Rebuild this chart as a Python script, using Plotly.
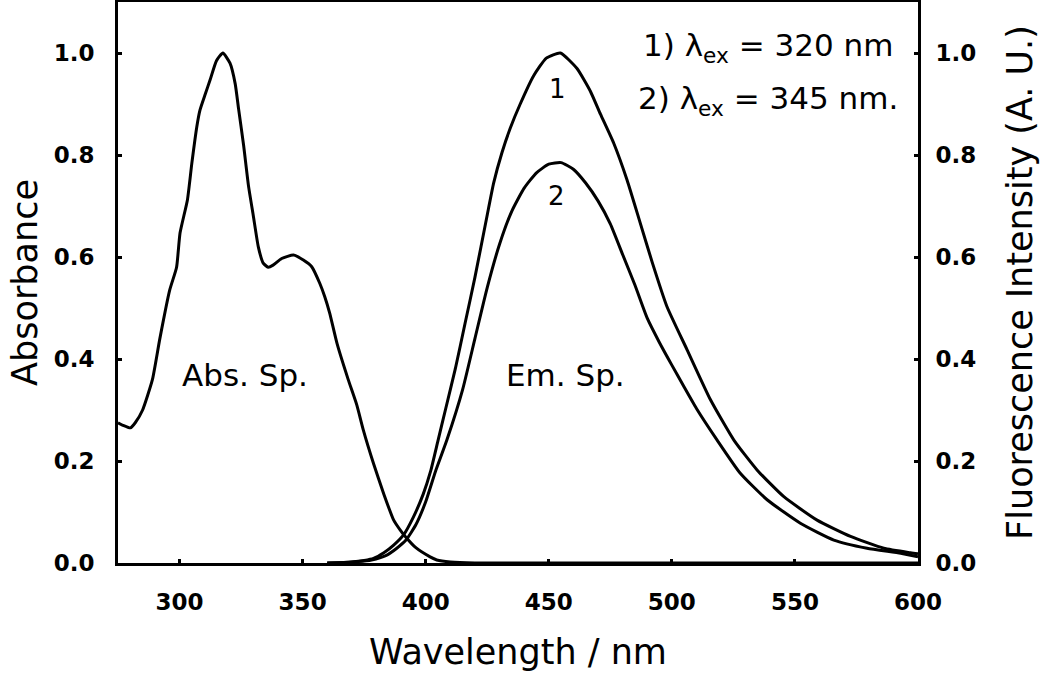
import plotly.graph_objects as go

# Absorption spectrum (nm, absorbance)
abs_wl = [275, 277, 280, 282, 285, 289, 292, 296, 298.8, 300.2, 303.2, 305, 307, 308.3, 310.5,
          312.4, 315, 317.6, 320.5, 322.6, 324, 326, 328, 330, 332, 334, 336, 338, 341.5,
          346.3, 350.3, 353.7, 357, 359, 361, 364, 368.5, 372, 374.7, 378.8, 383, 387, 389.6,
          391.7, 396, 401.8, 404.5, 410, 420, 600]
abs_val = [0.275, 0.27, 0.265, 0.275, 0.30, 0.36, 0.44, 0.535, 0.58, 0.647, 0.712, 0.784, 0.855,
           0.888, 0.92, 0.947, 0.985, 1.0, 0.98, 0.94, 0.89, 0.82, 0.74, 0.68, 0.62, 0.588,
           0.58, 0.584, 0.597, 0.604, 0.594, 0.581, 0.548, 0.522, 0.49, 0.43, 0.36, 0.31, 0.26,
           0.195, 0.135, 0.084, 0.065, 0.052, 0.03, 0.012, 0.006, 0.002, 0.0, 0.0]

# Emission spectrum 1 (lambda_ex = 320 nm)
em1_wl = [360, 370, 375, 378.8, 383, 387, 391, 395, 399, 402, 405, 408, 412, 416, 420, 424.9,
          427.6, 431, 434.3, 438.4, 443.8, 449, 454.7, 461.4, 466.9, 471, 476.4, 481.8, 487.2,
          492, 498, 506.2, 515.7, 525.2, 534.7, 545.5, 559, 572.6, 586.1, 597, 600]
em1_val = [0.0, 0.002, 0.005, 0.009, 0.02, 0.035, 0.055, 0.09, 0.135, 0.18, 0.24, 0.30, 0.38,
           0.47, 0.56, 0.68, 0.745, 0.805, 0.852, 0.90, 0.955, 0.99, 1.0, 0.97, 0.925, 0.88, 0.823,
           0.751, 0.666, 0.59, 0.503, 0.418, 0.32, 0.241, 0.182, 0.13, 0.084, 0.052, 0.029,
           0.02, 0.018]

# Emission spectrum 2 (lambda_ex = 345 nm)
em2_wl = [360, 370, 378, 384, 388, 392, 396, 400, 404, 408.6, 415, 420, 425, 430, 435,
          440, 445, 450, 455, 460, 465, 470, 475, 480, 485, 490, 495, 500, 505, 510,
          518.4, 527.8, 538.7, 552.2, 565.8, 579.3, 593, 600]
em2_val = [0.0, 0.002, 0.006, 0.015, 0.028, 0.045, 0.075, 0.12, 0.18, 0.241, 0.34, 0.44, 0.54,
           0.625, 0.69, 0.735, 0.765, 0.782, 0.785, 0.772, 0.745, 0.71, 0.665, 0.605, 0.545,
           0.48, 0.432, 0.388, 0.345, 0.303, 0.241, 0.176, 0.124, 0.078, 0.045, 0.029, 0.019,
           0.012]

x_ticks = [300, 350, 400, 450, 500, 550, 600]
y_ticks = [0.0, 0.2, 0.4, 0.6, 0.8, 1.0]
y_ticklabels = ["0.0", "0.2", "0.4", "0.6", "0.8", "1.0"]

FONT = "DejaVu Sans"
line = dict(color="black", width=3, shape="spline", smoothing=0.5)

fig = go.Figure()
fig.add_trace(go.Scatter(x=abs_wl, y=abs_val, mode="lines", line=line, showlegend=False))
fig.add_trace(go.Scatter(x=em1_wl, y=em1_val, mode="lines", line=line, showlegend=False, yaxis="y2"))
fig.add_trace(go.Scatter(x=em2_wl, y=em2_val, mode="lines", line=line, showlegend=False, yaxis="y2"))

tickfont = dict(family=FONT, size=23, color="black", weight="bold")
titlefont = dict(family=FONT, size=35, color="black")

common = dict(ticks="inside", ticklen=4, tickwidth=3, tickcolor="black", showline=True,
              linewidth=3, linecolor="black", showgrid=False, zeroline=False,
              tickfont=tickfont, automargin=False)

fig.update_layout(
    width=1050, height=676,
    margin=dict(l=118, r=132, t=2, b=113),
    paper_bgcolor="white", plot_bgcolor="white",
    xaxis=dict(range=[275, 600], tickvals=x_ticks, mirror=True, ticklabelstandoff=16,
               title=dict(text="Wavelength / nm", font=titlefont, standoff=26), **common),
    yaxis=dict(range=[0, 1.1], tickvals=y_ticks, ticktext=y_ticklabels, ticklabelstandoff=16,
               title=dict(text="Absorbance", font=titlefont, standoff=6), **common),
    yaxis2=dict(range=[0, 1.1], tickvals=y_ticks, ticktext=y_ticklabels,
                overlaying="y", side="right", ticklabelstandoff=10,
                title=dict(text="Fluorescence Intensity (A. U.)", font=titlefont, standoff=33),
                **common),
)

ann_font = dict(family=FONT, size=31, color="black")
fig.add_annotation(x=326.6, y=0.369, text="Abs. Sp.", showarrow=False, font=ann_font)
fig.add_annotation(x=456.7, y=0.369, text="Em. Sp.", showarrow=False, font=ann_font)
num_font = dict(family=FONT, size=26, color="black")
fig.add_annotation(x=453.5, y=0.93, text="1", showarrow=False, font=num_font)
fig.add_annotation(x=453.0, y=0.72, text="2", showarrow=False, font=num_font)
leg_font = dict(family=FONT, size=31, color="black")
fig.add_annotation(x=487.5, y=1.01, xanchor="left", text="1) λ<sub>ex</sub> = 320 nm",
                   showarrow=False, font=leg_font)
fig.add_annotation(x=485.5, y=0.906, xanchor="left", text="2) λ<sub>ex</sub> = 345 nm.",
                   showarrow=False, font=leg_font)

fig.write_html("out.html", config={"displayModeBar": False},
               post_script="document.body.style.margin='0';")
